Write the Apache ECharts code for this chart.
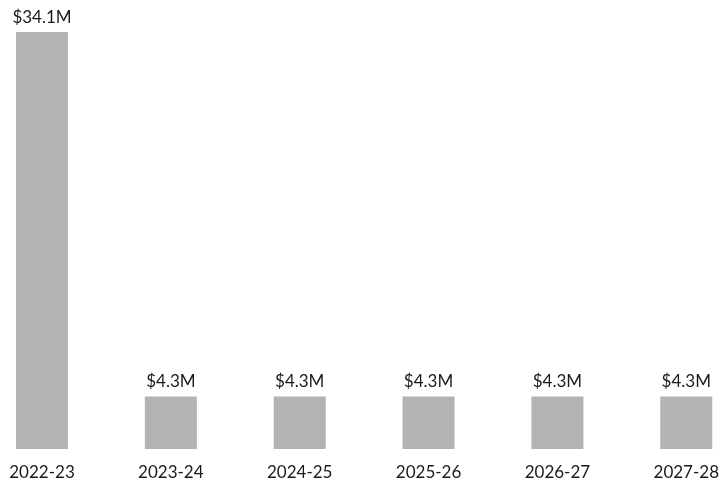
<!DOCTYPE html>
<html>
<head>
<meta charset="utf-8">
<script src="https://cdn.jsdelivr.net/npm/echarts@6/dist/echarts.min.js"></script>
<style>
  html, body { margin: 0; padding: 0; background: #ffffff; }
  #chart { width: 722px; height: 485px; }
</style>
</head>
<body>
<div id="chart"></div>
<script>
// Fiscal years and funding amounts (in millions of dollars)
const years = ['2022-23', '2023-24', '2024-25', '2025-26', '2026-27', '2027-28'];
const amounts = [34.1, 4.3, 4.3, 4.3, 4.3, 4.3];

const chart = echarts.init(document.getElementById('chart'));
chart.setOption({
  animation: false,
  grid: { left: 42, right: 28, top: 32, bottom: 36 },
  xAxis: {
    type: 'category',
    data: years,
    boundaryGap: false,
    axisLine: { show: false },
    axisTick: { show: false },
    axisLabel: {
      color: '#1a1a1a',
      fontFamily: 'Lato',
      fontSize: 17,
      margin: 15
    }
  },
  yAxis: {
    type: 'value',
    min: 0,
    max: 34.1,
    show: false,
    splitLine: { show: false }
  },
  series: [{
    type: 'bar',
    data: amounts,
    barWidth: 52,
    itemStyle: { color: '#b3b4b1' },
    label: {
      show: true,
      position: 'top',
      distance: 6,
      color: '#1a1a1a',
      fontFamily: 'Lato',
      fontSize: 17,
      formatter: p => '$' + p.value.toFixed(1) + 'M'
    }
  }]
});
</script>
</body>
</html>
